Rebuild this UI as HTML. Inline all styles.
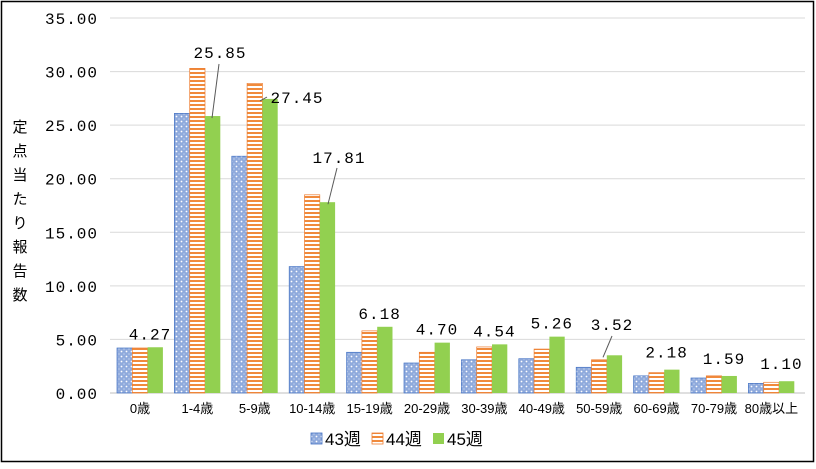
<!DOCTYPE html>
<html><head><meta charset="utf-8"><style>
body{margin:0;background:#fff}
svg text{font-family:"Liberation Mono","Noto Sans CJK JP",monospace;fill:#000}
</style></head><body>
<svg id="s" width="816" height="464" xmlns="http://www.w3.org/2000/svg">
<defs>
<pattern id="pb" width="5" height="5" patternUnits="userSpaceOnUse"><rect width="5" height="5" fill="#8faadc"/><circle cx="1.5" cy="1.5" r="0.9" fill="#fff"/><circle cx="4" cy="4" r="0.6" fill="#dbe4f5"/></pattern>
<pattern id="po" width="4" height="4" patternUnits="userSpaceOnUse"><rect width="4" height="4" fill="#fff"/><rect width="4" height="2" fill="#f08a3c"/></pattern>
</defs>
<rect x="1.5" y="1.5" width="812" height="460" fill="#fff" stroke="#000" stroke-width="1.5"/>
<g id="g"></g>
<g font-size="15" text-anchor="middle">
<text x="20" y="132">定</text><text x="20" y="156">点</text><text x="20" y="180">当</text><text x="20" y="204">た</text><text x="20" y="228">り</text><text x="20" y="252">報</text><text x="20" y="276">告</text><text x="20" y="300">数</text>
</g>
<g font-size="17" style="font-family:'Liberation Sans','Noto Sans CJK JP',sans-serif">
<rect x="311" y="433" width="11" height="11" fill="url(#pb)" stroke="#4472c4" stroke-width="0.8"/><text x="325" y="445" style="font-family:'Liberation Sans','Noto Sans CJK JP',sans-serif">43週</text>
<rect x="372" y="433" width="11" height="11" fill="url(#po)" stroke="#ed7d31" stroke-width="0.8"/><text x="386" y="445" style="font-family:'Liberation Sans','Noto Sans CJK JP',sans-serif">44週</text>
<rect x="433" y="433" width="11" height="11" fill="#92d050"/><text x="447" y="445" style="font-family:'Liberation Sans','Noto Sans CJK JP',sans-serif">45週</text>
</g>
</svg>
<script>
var g=document.getElementById('g'),h='';
var Y=function(v){return 393-v*10.714};
for(var i=0;i<=7;i++){var y=Y(i*5);h+='<line x1="110" x2="805" y1="'+y+'" y2="'+y+'" stroke="'+(i?'#d9d9d9':'#bfbfbf')+'"/>';h+='<text x="98" y="'+(y+6)+'" font-size="16" letter-spacing="1" text-anchor="end">'+(i*5).toFixed(2)+'</text>';}
var cats=['0歳','1-4歳','5-9歳','10-14歳','15-19歳','20-29歳','30-39歳','40-49歳','50-59歳','60-69歳','70-79歳','80歳以上'];
var a=[4.2,26.1,22.1,11.8,3.8,2.8,3.1,3.2,2.4,1.6,1.4,0.9];
var b=[4.2,30.3,28.9,18.5,5.8,3.8,4.3,4.1,3.1,1.9,1.6,1.0];
var c=[4.27,25.85,27.45,17.81,6.18,4.70,4.54,5.26,3.52,2.18,1.59,1.10];
for(var k=0;k<12;k++){var x=117+k*57.4,w=15.3;
h+='<rect x="'+x+'" y="'+Y(a[k])+'" width="'+w+'" height="'+(a[k]*10.714)+'" fill="url(#pb)" stroke="#4472c4" stroke-width="0.7"/>';
h+='<rect x="'+(x+w)+'" y="'+Y(b[k])+'" width="'+w+'" height="'+(b[k]*10.714)+'" fill="url(#po)" stroke="#ed7d31" stroke-width="0.7"/>';
h+='<rect x="'+(x+2*w)+'" y="'+Y(c[k])+'" width="'+w+'" height="'+(c[k]*10.714)+'" fill="#92d050"/>';
h+='<text x="'+(x+23)+'" y="413" font-size="13" text-anchor="middle" style="font-family:\'Liberation Sans\',\'Noto Sans CJK JP\',sans-serif">'+cats[k]+'</text>';
var lx,ly=Y(c[k])-8,t=c[k].toFixed(2);
if(k==1){lx=220;ly=58;h+='<line x1="219" y1="64" x2="212" y2="'+(Y(c[k])+2)+'" stroke="#595959"/>';}
else if(k==2){lx=297;ly=103;h+='<line x1="267" y1="97" x2="260" y2="'+(Y(c[k])+2)+'" stroke="#595959"/>';}
else if(k==3){lx=339;ly=163;h+='<line x1="337" y1="168" x2="328" y2="'+(Y(c[k])+2)+'" stroke="#595959"/>';}
else if(k==8){lx=612;ly=330;h+='<line x1="612" y1="336" x2="603" y2="'+(Y(c[k])+2)+'" stroke="#595959"/>';}
else{lx=x+33;if(k>=9)ly=Y(c[k])-12;}
h+='<text x="'+lx+'" y="'+ly+'" font-size="16" letter-spacing="1" text-anchor="middle">'+t+'</text>';}
g.innerHTML=h;
</script>
</body></html>
